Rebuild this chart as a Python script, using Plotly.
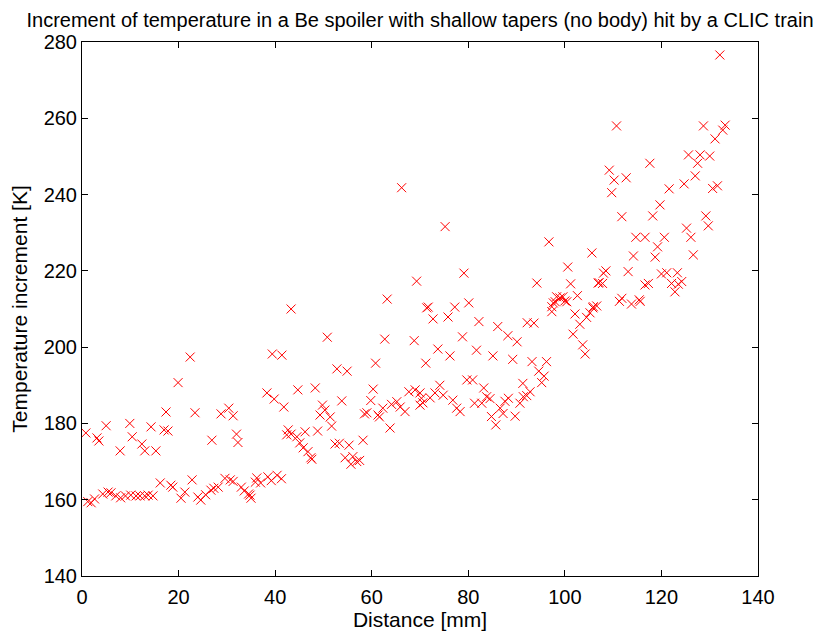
import plotly.graph_objects as go

title_text = "Increment of temperature in a Be spoiler with shallow tapers (no body) hit by a CLIC train"
x_label = "Distance [mm]"
y_label = "Temperature increment [K]"
x_ticks = [0, 20, 40, 60, 80, 100, 120, 140]
y_ticks = [140, 160, 180, 200, 220, 240, 260, 280]

points = [
    (1.2,159.5),(1.9,159.2),(2.6,160.2),(4.3,161.5),(5.4,162),(6.0,161.8),(7.0,161),(8.0,160.5),(9.0,161),(10.1,161.2),
    (11.2,161),(12.0,161),(13.0,161),(13.7,161.2),(14.7,161),(16.2,164.4),(18.4,163.8),(18.8,163.3),(20.5,160.4),(21.3,162),
    (22.8,165.2),(24.0,160.7),(24.6,159.9),(25.6,161.3),(26.7,162.5),(27.3,163),(28.2,163.3),(29.6,165.6),(30.7,165.2),(31.3,164.8),
    (33.0,163.3),(33.6,162.3),(34.5,161.5),(34.8,161.2),(35.0,160.4),(35.9,164.6),(36.2,165.7),(37.0,164.4),(38.5,166),(39.2,165),
    (40.4,166.4),(41.3,165.5),
    (0.8,177.5),(3.1,176.2),(3.5,175.4),(5.0,179.4),(7.9,172.8),(9.9,180),(10.4,176.5),(12.4,174.6),(13.0,172.8),(14.3,179.1),
    (15.3,172.8),(17.0,178.3),(17.8,178),(17.4,183),(19.9,190.7),(22.4,197.4),(23.4,182.8),(26.9,175.6),(28.8,182.5),(30.4,184),
    (31.3,182),(32.0,177.2),(32.3,175),
    (38.3,188),(39.4,198.2),(39.8,186.4),(41.4,197.9),(41.8,184.3),(42.4,177),(42.7,178.3),(43.3,177.2),(43.3,210),(44.5,176.5),
    (44.7,188.8),(45.1,174.9),(45.8,173.6),(46.2,177.8),(46.8,172.6),(47.4,171),(47.6,170.6),(48.3,189.3),(48.8,178),(49.3,182.2),
    (49.8,184.8),(50.3,183.5),(50.8,202.6),(51.4,181.7),(51.7,179.3),(52.4,174.6),(52.8,194.3),(53.3,174.8),(53.8,185.9),(54.5,171),
    (54.9,193.7),(55.3,174.3),(55.7,169.3),(56.1,171.3),(56.9,170),(57.5,170.3),(58.2,175.6),(58.5,182.5),(59.0,182.8),(59.8,186),
    (60.3,189),(60.8,195.8),(61.3,182.2),(61.6,181.7),(62.3,184),(62.7,202.1),(63.2,212.6),(63.8,178.8),(64.1,185),(65.2,185.7),
    (65.9,184.3),(66.2,241.8),(66.9,183.1),(67.7,188.3),(68.8,201.7),(69.0,188.8),(69.3,217.3),(70.0,188),(70.3,186.6),(70.6,185.4),
    (70.0,184.8),(71.2,195.8),(71.4,210.3),(71.7,210.5),(72.1,186.7),(72.7,207.4),(73.1,188),(73.7,199.5),(74.1,190),(74.8,187.4),
    (75.2,231.6),(75.8,207.9),(76.2,197.7),(76.8,186.1),(77.2,210.5),(77.6,184),(78.3,183.1),(78.8,202.7),(79.1,219.4),(79.7,191.4),
    (80.1,211.6),(80.9,191.4),(81.3,185.3),(81.7,199.2),(82.2,206.7),(82.8,185.3),(83.2,189.3),(83.8,187),(84.5,186.5),(84.8,181.8),
    (85.1,197.7),(85.7,179.6),(86.1,205.4),(86.6,184),(87.2,182.6),(87.6,185.8),(88.2,203),(88.3,186.6),(89.2,196.8),(89.7,181.9),
    (90.1,201.4),(90.7,185.3),(91.3,190.5),(91.4,187),(92.1,187.3),(92.2,206.4),(92.8,188.3),(93.2,196.2),(93.6,206.3),(94.2,216.8),
    (94.6,193.7),(95.2,190.7),(95.7,192.4),(96.2,196.2),(96.7,227.6),(97.3,209.3),(97.3,210.6),(97.6,211.6),(98.0,211.9),(98.3,213.2),
    (99.0,212.9),(99.6,213.2),(100.0,212.1),(100.4,211.9),(100.6,221),(101.2,216.6),(101.7,203.4),(102.1,208.7),(102.6,213.5),(103.1,206),
    (103.7,200.6),(104.2,198.2),(104.5,207.8),(105.2,209),(105.6,224.7),(105.8,210.3),(105.9,210.6),(106.6,210.8),(106.9,216.8),(107.1,216.9),
    (107.8,216.7),(108.0,219.4),(108.5,220),(109.2,246.4),(109.7,240.5),(110.2,243.8),(110.7,258),(111.3,212),(111.8,212.8),(111.8,234.2),
    (112.7,244.4),(113.1,219.8),(113.8,211.3),(114.2,223.9),(114.7,228.8),(115.4,212.4),(115.6,212),(116.6,228.8),(116.6,216.3),(117.3,216.7),
    (117.6,248.2),(118.2,234.4),(118.7,223.6),(119.2,226.3),(119.7,237.3),(120.0,219.2),(120.6,228.8),(121.1,219.5),(121.6,241.5),(122.1,216.7),
    (122.8,214.5),(123.3,219.5),(123.5,216.5),(124.2,217.2),(124.7,242.8),(125.2,231.2),(125.6,250.4),(126.1,228.8),(126.6,224.2),(127.0,244.9),
    (127.5,248.2),(128.0,250.4),(128.7,258),(129.2,234.4),(129.7,231.8),(130.0,250.1),(130.6,241.6),(131.1,254.6),(131.6,242.3),(132.1,276.6),
    (132.7,256.9),(133.2,258.2),
]
distance = [p[0] for p in points]
temp_increment = [p[1] for p in points]

font = "Liberation Sans, Arial, Helvetica, sans-serif"

fig = go.Figure(go.Scatter(
    x=distance, y=temp_increment, mode="markers",
    marker=dict(symbol="x-thin", size=9, line=dict(color="#ff0000", width=1), color="#ff0000"),
    showlegend=False,
))

axis_common = dict(
    showline=True, linecolor="black", linewidth=1, mirror="ticks",
    ticks="inside", ticklen=6, tickcolor="black", showgrid=False, zeroline=False,
    tickfont=dict(family=font, size=20, color="black"), automargin=False,
)
fig.update_xaxes(range=[0, 140], tickvals=x_ticks, ticktext=[str(v) for v in x_ticks],
                 ticklabelstandoff=3,
                 title=dict(text=x_label, font=dict(family=font, size=21, color="black"), standoff=6),
                 **axis_common)
fig.update_yaxes(range=[140, 280], tickvals=y_ticks, ticktext=[str(v) for v in y_ticks],
                 title=dict(text=y_label, font=dict(family=font, size=21, color="black"), standoff=10),
                 **axis_common)
fig.update_layout(
    width=829, height=631,
    margin=dict(l=82, r=71, t=42, b=55, autoexpand=False),
    plot_bgcolor="white", paper_bgcolor="white",
    title=dict(text=title_text, x=0.5, xref="paper", y=0.968, yanchor="middle",
               font=dict(family=font, size=20, color="black")),
)
fig.write_html("out.html")
